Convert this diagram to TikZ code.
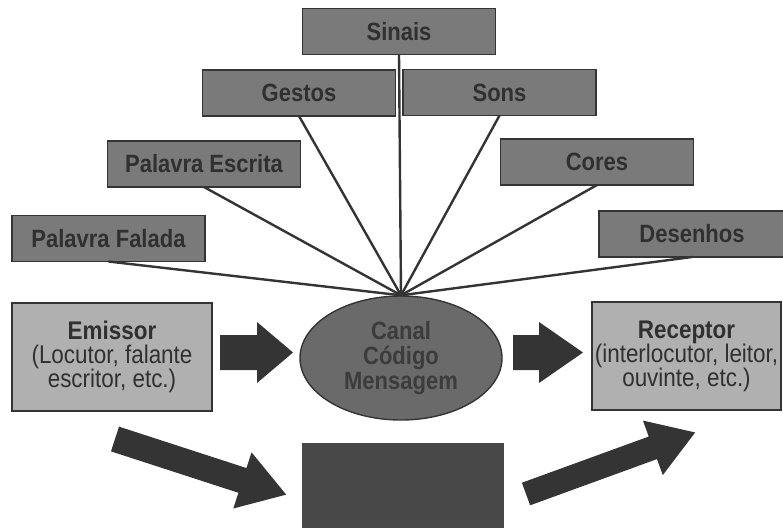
\documentclass[tikz,border=0pt]{standalone}
\usepackage{fontspec}
\setmainfont{Liberation Sans}
\newfontfamily\narrowsans[FakeStretch=0.88]{Liberation Sans}
\usepackage{tikz}
\usetikzlibrary{shapes.geometric}

\definecolor{boxgray}{HTML}{7A7A7A}
\definecolor{lightgray}{HTML}{B0B0B0}
\definecolor{ovalgray}{HTML}{6A6A6A}
\definecolor{inkgray}{HTML}{343434}
\definecolor{textgray}{HTML}{303030}

\tikzset{
  pics/blockarrow/.style args={#1/#2/#3/#4}{code={
    \fill[inkgray] (0,-#2) -- (#1-#4,-#2) -- (#1-#4,-#3) -- (#1,0)
      -- (#1-#4,#3) -- (#1-#4,#2) -- (0,#2) -- cycle;
  }}
}

\begin{document}
\begin{tikzpicture}[x=1pt, y=-1pt,
  kind/.style={rectangle, draw=inkgray, line width=1.4pt, fill=boxgray, text=textgray,
    inner sep=0pt, outer sep=0pt, minimum width=193pt, minimum height=46pt,
    font=\narrowsans\fontsize{25}{26}\selectfont\bfseries},
  actor/.style={rectangle, draw=inkgray, line width=1.4pt, fill=lightgray, text=textgray,
    inner sep=0pt, outer sep=0pt, minimum height=108pt, align=center,
    font=\narrowsans\fontsize{25.5}{24}\selectfont},
  spoke/.style={inkgray, line width=2.4pt}]
\useasboundingbox (0,0) rectangle (783,528);

% kinds of signs
\path (399,31.5) node[kind] (sinais) {Sinais};
\path (299,93) node[kind] (gestos) {Gestos};
\path (499.5,92.5) node[kind] (sons) {Sons};
\path (204,164) node[kind] (escrita) {Palavra Escrita};
\path (597,162) node[kind] (cores) {Cores};
\path (108.5,238.5) node[kind] (falada) {Palavra Falada};
\path (692,234) node[kind, minimum width=186pt] (desenhos) {Desenhos};

% middle row
\path (112,357) node[actor, minimum width=200pt] (emissor)
  {\textbf{Emissor}\\(Locutor, falante\\escritor, etc.)};
\path (401,358) node[ellipse, draw=inkgray, line width=1.4pt, fill=ovalgray, text=inkgray!85!ovalgray,
  inner sep=0pt, minimum width=202pt, minimum height=124pt, align=center,
  font=\narrowsans\fontsize{25}{25}\selectfont\bfseries] (canal) {Canal\\Código\\Mensagem};
\path (686.5,356) node[actor, minimum width=189pt] (receptor)
  {\textbf{Receptor}\\(interlocutor, leitor,\\ouvinte, etc.)};

\path (403,485.5) node[rectangle, fill=inkgray!90!white, inner sep=0pt,
  minimum width=202pt, minimum height=85pt] (contexto) {};

\draw[spoke] (sinais.south) -- (canal.north);
\draw[spoke] (gestos.south) -- (canal.north);
\draw[spoke] (sons.south) -- (canal.north);
\draw[spoke] (escrita.south) -- (canal.north);
\draw[spoke] (cores.south) -- (canal.north);
\draw[spoke] (falada.south) -- (canal.north);
\draw[spoke] (desenhos.south) -- (canal.north);

% block arrows
\pic at (220,352.5) {blockarrow=73/17.5/30.5/36};
\pic at (513,352.5) {blockarrow=70/17.5/30.5/44};
\pic[rotate=-18] at (115,439) {blockarrow=180/13/29.5/46};
\pic[rotate=20] at (526,494) {blockarrow=180/12/29/45};
\end{tikzpicture}
\end{document}
